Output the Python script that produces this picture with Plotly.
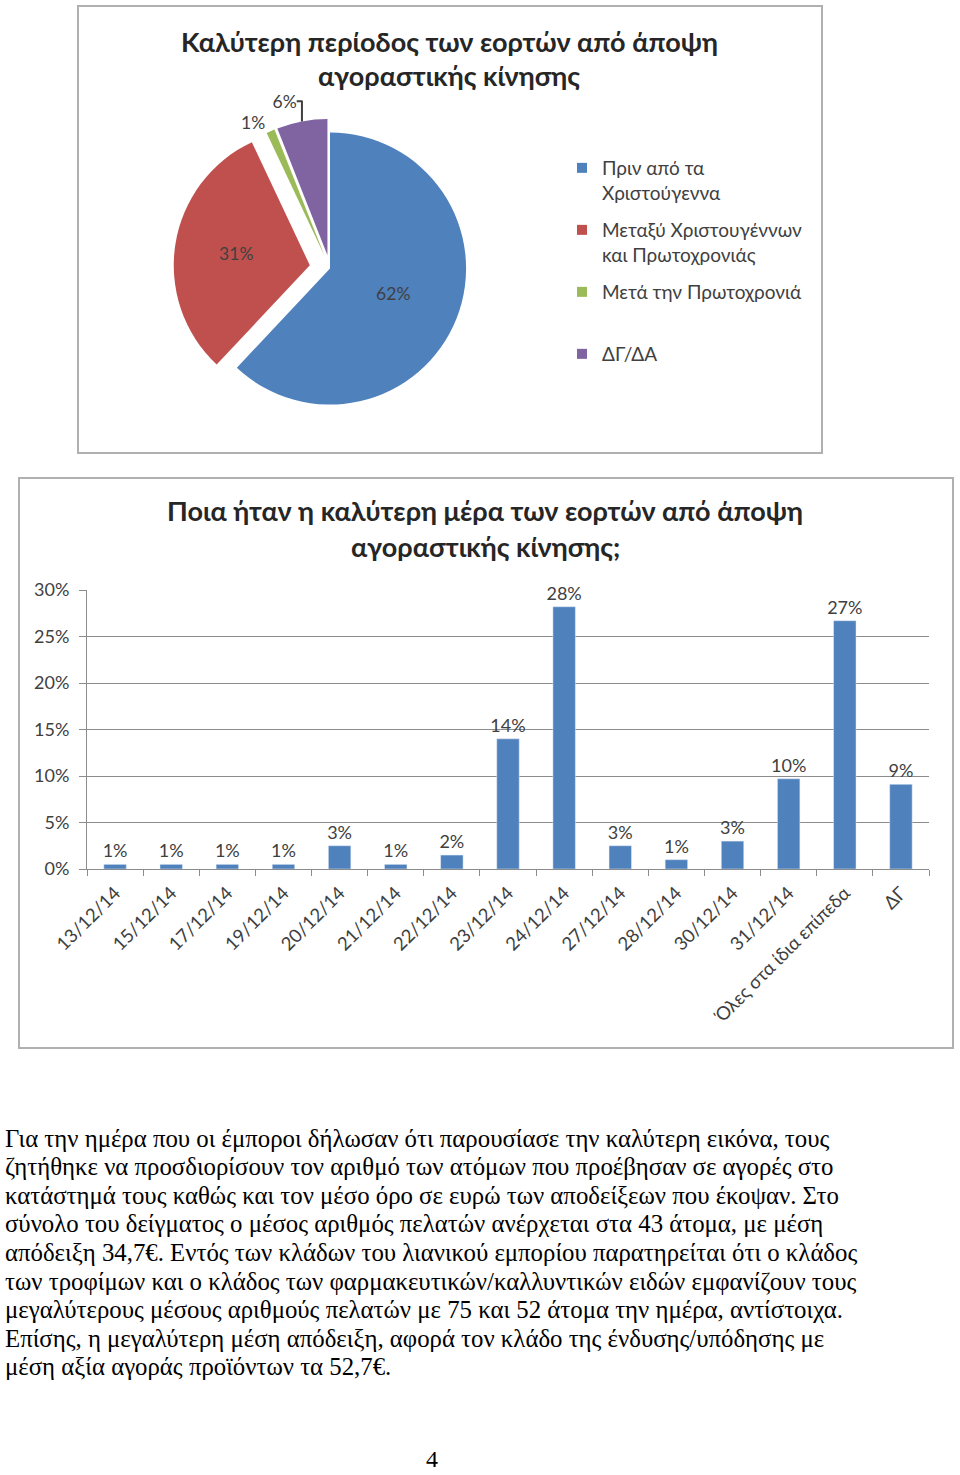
import math
import plotly.graph_objects as go

W, H = 960, 1475

# ---------------- data ----------------
pie_title = ["Καλύτερη περίοδος των εορτών από άποψη", "αγοραστικής κίνησης"]
pie_labels = ["Πριν από τα<br>Χριστούγεννα", "Μεταξύ Χριστουγέννων<br>και Πρωτοχρονιάς",
              "Μετά την Πρωτοχρονιά<br> ", "ΔΓ/ΔΑ"]
pie_values = [62, 31, 1, 6]
pie_colors = ["#4F81BD", "#C0504D", "#9BBB59", "#8064A2"]

bar_title = ["Ποια ήταν η καλύτερη μέρα των εορτών από άποψη", "αγοραστικής κίνησης;"]
bar_categories = ["13/12/14", "15/12/14", "17/12/14", "19/12/14", "20/12/14", "21/12/14",
                  "22/12/14", "23/12/14", "24/12/14", "27/12/14", "28/12/14", "30/12/14",
                  "31/12/14", "Όλες στα ίδια επίπεδα", "ΔΓ"]
bar_values = [0.5, 0.5, 0.5, 0.5, 2.5, 0.5, 1.5, 14.0, 28.2, 2.5, 1.0, 3.0, 9.7, 26.7, 9.1]
y_ticks = [0, 5, 10, 15, 20, 25, 30]

paragraph = [
    "Για την ημέρα που οι έμποροι δήλωσαν ότι παρουσίασε την καλύτερη εικόνα, τους",
    "ζητήθηκε να προσδιορίσουν τον αριθμό των ατόμων που προέβησαν σε αγορές στο",
    "κατάστημά τους καθώς και τον μέσο όρο σε ευρώ των αποδείξεων που έκοψαν. Στο",
    "σύνολο του δείγματος ο μέσος αριθμός πελατών ανέρχεται στα 43 άτομα, με μέση",
    "απόδειξη 34,7€. Εντός των κλάδων του λιανικού εμπορίου παρατηρείται ότι ο κλάδος",
    "των τροφίμων και ο κλάδος των φαρμακευτικών/καλλυντικών ειδών εμφανίζουν τους",
    "μεγαλύτερους μέσους αριθμούς πελατών με 75 και 52 άτομα την ημέρα, αντίστοιχα.",
    "Επίσης, η μεγαλύτερη μέση απόδειξη, αφορά τον κλάδο της ένδυσης/υπόδησης με",
    "μέση αξία αγοράς προϊόντων τα 52,7€.",
]
page_number = "4"


def px(x):
    return x / W


def py(y):
    return 1 - y / H


bar_text = [f"{math.floor(v + 0.5)}%" for v in bar_values]

SANS = "Lato"
TXT = "#404040"
GRID = "#8c8c8c"

fig = go.Figure()

fig.add_trace(go.Pie(
    labels=pie_labels, values=pie_values, sort=False, direction="clockwise", rotation=0,
    marker=dict(colors=pie_colors, line=dict(color="white", width=0)),
    pull=[0, 0.15, 0.1, 0.1],
    texttemplate="%{percent:.0%}",
    textposition=["inside", "inside", "outside", "outside"],
    textfont=dict(family=SANS, size=17.5, color=TXT),
    domain=dict(x=[px(172), px(488)], y=[py(425), py(112)]),
    showlegend=False, hoverinfo="label+percent",
))

# legend entries for the pie slices (one legend group per slice for spacing)
for i, (lab, col) in enumerate(zip(pie_labels, pie_colors)):
    fig.add_trace(go.Scatter(
        x=[None], y=[None], mode="markers", name=lab,
        marker=dict(symbol="square", size=10, color=col),
        legendgroup=f"g{i}", showlegend=True, hoverinfo="skip",
    ))

fig.add_trace(go.Bar(
    x=bar_categories, y=bar_values, marker_color="#4F81BD",
    text=bar_text, textposition="outside", cliponaxis=False, constraintext="none",
    textfont=dict(family=SANS, size=18, color=TXT),
    showlegend=False,
))

fig.update_layout(
    width=W, height=H, margin=dict(l=0, r=0, t=0, b=0, autoexpand=False),
    paper_bgcolor="white", plot_bgcolor="white",
    bargap=0.6,
    legend=dict(x=px(562), y=py(149), xanchor="left", yanchor="top",
                font=dict(family=SANS, size=19, color=TXT), valign="top",
                tracegroupgap=9.6, traceorder="grouped",
                bgcolor="rgba(0,0,0,0)", itemwidth=30),
    xaxis=dict(domain=[px(87), px(929)], anchor="y", type="category", automargin=False,
               range=[-0.5, len(bar_categories) - 0.5],
               showline=True, linecolor=GRID, linewidth=1,
               ticks="outside", tickson="boundaries", ticklen=6, tickcolor=GRID,
               tickangle=-45, tickfont=dict(family=SANS, size=18.5, color=TXT),
               ticklabelstandoff=5,
               showgrid=False, fixedrange=True),
    yaxis=dict(domain=[py(869), py(590)], anchor="x", range=[0, 30], automargin=False,
               tickvals=y_ticks, ticktext=[f"{t}%" for t in y_ticks],
               showline=True, linecolor=GRID, linewidth=1,
               ticks="outside", ticklen=7, tickcolor=GRID,
               showgrid=True, gridcolor=GRID, gridwidth=1, zeroline=False,
               tickfont=dict(family=SANS, size=18, color=TXT), ticklabelstandoff=6,
               fixedrange=True),
    shapes=[
        dict(type="rect", xref="paper", yref="paper", x0=px(78), x1=px(822), y0=py(453), y1=py(6),
             line=dict(color="#b0b0b0", width=2), layer="below"),
        dict(type="rect", xref="paper", yref="paper", x0=px(19), x1=px(953), y0=py(1048), y1=py(478),
             line=dict(color="#b0b0b0", width=2), layer="below"),
    ],
)

ann = []
for i, line in enumerate(pie_title):
    ann.append(dict(text=f"<b>{line}</b>", x=px(449), y=py(41 + 35 * i), xref="paper", yref="paper",
                    xanchor="center", yanchor="middle", showarrow=False,
                    font=dict(family=SANS, size=27, color="#262626")))
for i, line in enumerate(bar_title):
    ann.append(dict(text=f"<b>{line}</b>", x=px(485), y=py(511 + 36 * i), xref="paper", yref="paper",
                    xanchor="center", yanchor="middle", showarrow=False,
                    font=dict(family=SANS, size=27, color="#262626")))
for i, line in enumerate(paragraph):
    ann.append(dict(text=line, x=px(3), y=py(1138 + 28.6 * i), xref="paper", yref="paper",
                    xanchor="left", yanchor="middle", align="left", showarrow=False,
                    font=dict(family="Liberation Serif", size=24.8, color="black")))
ann.append(dict(text=page_number, x=px(432), y=py(1459), xref="paper", yref="paper",
                xanchor="center", yanchor="middle", showarrow=False,
                font=dict(family="Liberation Serif", size=24, color="black")))
fig.update_layout(annotations=ann)

fig.write_html("out.html")
